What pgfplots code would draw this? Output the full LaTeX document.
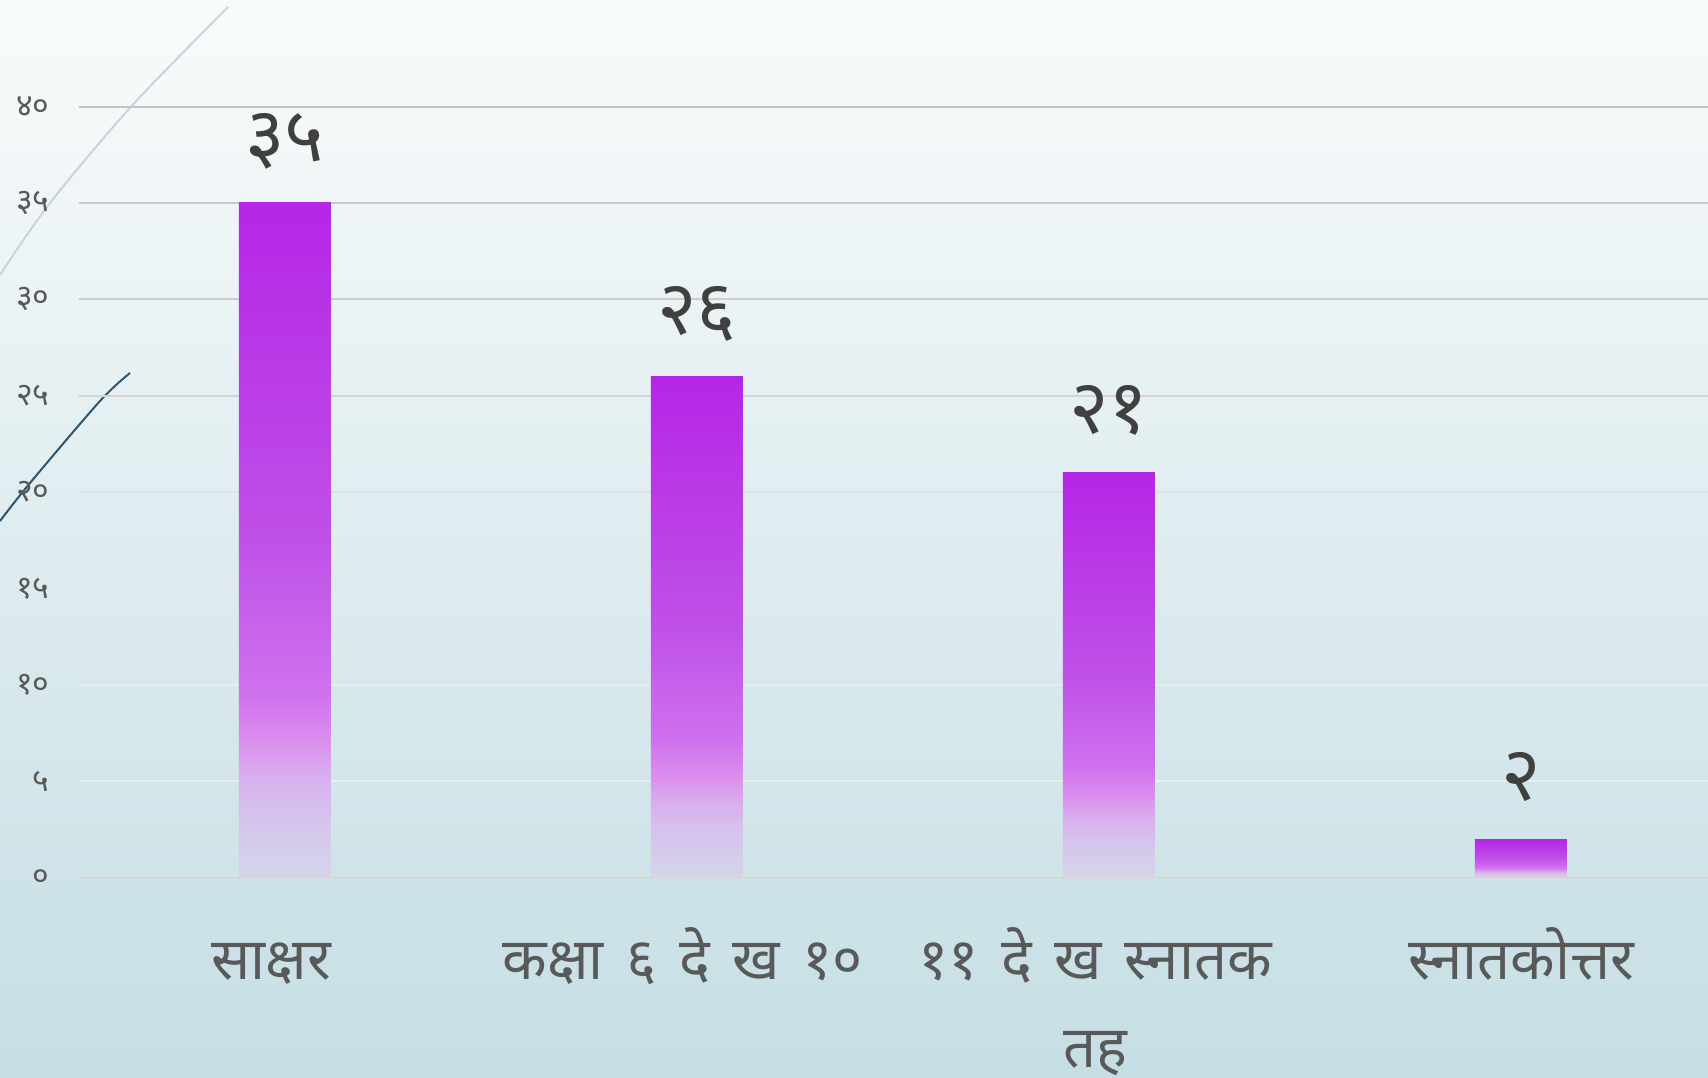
\documentclass[border=0pt]{standalone}
\usepackage{fontspec}
\usepackage{pgfplots}
\pgfplotsset{compat=1.18}
\newfontfamily\deva[Script=Devanagari]{Noto Sans}
\newfontfamily\devaw[Script=Devanagari,WordSpace=1.5]{Noto Sans}
\definecolor{bgtop}{HTML}{F9FBFB}
\definecolor{bgbot}{HTML}{C5DEE4}
\definecolor{s0}{HTML}{D4D6EA}
\definecolor{s1}{HTML}{D6C0EC}
\definecolor{s2}{HTML}{D9AEEE}
\definecolor{s3}{HTML}{DB90EE}
\definecolor{s4}{HTML}{CF72EE}
\definecolor{s5}{HTML}{BF50E7}
\definecolor{s6}{HTML}{B526E6}
\definecolor{ticktxt}{HTML}{595959}
\definecolor{valtxt}{HTML}{404040}
\definecolor{arcgray}{HTML}{CCD3D8}
\definecolor{darkl}{HTML}{2F5570}
\definecolor{g40}{HTML}{C4C4C4}
\definecolor{g35}{HTML}{C8C8C8}
\definecolor{g30}{HTML}{CDCDCD}
\definecolor{g25}{HTML}{D3D5D5}
\definecolor{g20}{HTML}{DEE4E5}
\definecolor{g15}{HTML}{E2E9EB}
\definecolor{g10}{HTML}{E6EDEF}
\definecolor{g5}{HTML}{E7EEF0}
\definecolor{g0}{HTML}{D6D9DA}
\pgfdeclareverticalshading{barshade}{100bp}{color(0bp)=(s0); color(25bp)=(s0); color(30bp)=(s1); color(32.5bp)=(s2); color(35bp)=(s3); color(38.5bp)=(s4); color(50bp)=(s5); color(75bp)=(s6); color(100bp)=(s6)}
\begin{document}
\begin{tikzpicture}
\path[use as bounding box] (0pt,0pt) rectangle (854pt,538.5pt);
\shade[top color=bgtop, bottom color=bgbot] (0pt,0pt) rectangle (854pt,538.5pt);
\draw[color=arcgray, line width=1pt] plot[smooth] coordinates {(0pt,401pt) (25pt,437pt) (65.85pt,485.5pt) (114pt,535pt)};
\draw[color=darkl, line width=1pt] plot[smooth] coordinates {(0pt,278pt) (15pt,297pt) (50pt,338pt) (65pt,352pt)};
\begin{axis}[
  at={(39.5pt,99.65pt)}, anchor=south west,
  scale only axis, width=814.5pt, height=385.6pt,
  xmin=-0.5, xmax=3.454, ymin=0, ymax=40,
  axis line style={draw=none}, tick style={draw=none},
  major tick length=0pt,
  clip=false,
  ytick={0,5,10,15,20,25,30,35,40},
  yticklabels={०,५,१०,१५,२०,२५,३०,३५,४०},
  yticklabel style={font=\deva\fontsize{16}{18}\selectfont, text=ticktxt, anchor=east, inner sep=0pt, xshift=-14.5pt},
  xtick={0,1,2,3},
  xticklabels={{साक्षर\hspace*{14pt}},{कक्षा ६ दे ख १०\hspace*{14pt}},{\begin{tabular}[t]{@{}c@{}}११ दे ख स्नातक\hspace*{14pt}\\तह\hspace*{14pt}\end{tabular}},{स्नातकोत्तर}},
  xticklabel style={font=\devaw\fontsize{29}{44}\selectfont, text=ticktxt, anchor=base, inner sep=0pt, yshift=-51pt},
]
\draw[color=g0, line width=1pt] (axis cs:-0.5,0) -- (axis cs:3.454,0);
\draw[color=g5, line width=1pt] (axis cs:-0.5,5) -- (axis cs:3.454,5);
\draw[color=g10, line width=1pt] (axis cs:-0.5,10) -- (axis cs:3.454,10);
\draw[color=g15, line width=1pt] (axis cs:-0.5,15) -- (axis cs:3.454,15);
\draw[color=g20, line width=1pt] (axis cs:-0.5,20) -- (axis cs:3.454,20);
\draw[color=g25, line width=1pt] (axis cs:-0.5,25) -- (axis cs:3.454,25);
\draw[color=g30, line width=1pt] (axis cs:-0.5,30) -- (axis cs:3.454,30);
\draw[color=g35, line width=1pt] (axis cs:-0.5,35) -- (axis cs:3.454,35);
\draw[color=g40, line width=1pt] (axis cs:-0.5,40) -- (axis cs:3.454,40);
\addplot[ybar, bar width=46pt, bar shift=0pt, draw=none, shade, shading=barshade] coordinates {(0,35)};
\addplot[ybar, bar width=46pt, bar shift=0pt, draw=none, shade, shading=barshade] coordinates {(1,26)};
\addplot[ybar, bar width=46pt, bar shift=0pt, draw=none, shade, shading=barshade] coordinates {(2,21)};
\addplot[ybar, bar width=46pt, bar shift=0pt, draw=none, shade, shading=barshade] coordinates {(3,2)};
\addplot[draw=none, mark=none, nodes near coords, point meta=explicit symbolic,
  every node near coord/.append style={font=\deva\fontsize{38}{44}\selectfont, text=valtxt, anchor=center, yshift=31pt}]
  coordinates {(0,35) [३५] (1,26) [२६] (2,21) [२१] (3,2) [२]};
\end{axis}
\end{tikzpicture}
\end{document}
